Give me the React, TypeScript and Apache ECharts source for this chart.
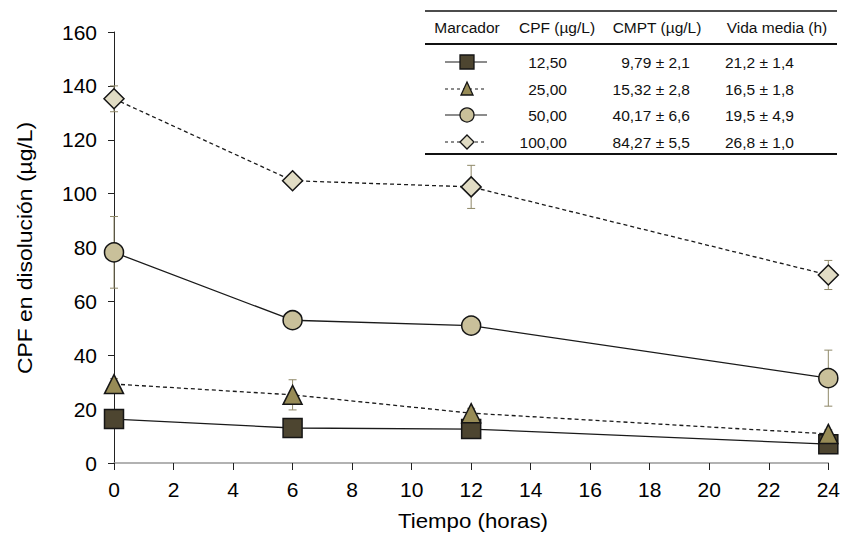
import React, { useEffect, useRef } from "react";
import * as echarts from "echarts";

const hours = [0, 6, 12, 24];
const xTicks = [0, 2, 4, 6, 8, 10, 12, 14, 16, 18, 20, 22, 24];

const s12 = [16.3, 13.0, 12.6, 7.0];
const e12 = [1.2, 1.0, 1.0, 0.8];
const s25 = [29.3, 25.3, 18.5, 10.8];
const e25 = [2.0, 5.6, 1.8, 1.5];
const s50 = [78.2, 53.0, 51.0, 31.5];
const e50 = [13.3, 1.5, 1.5, 10.4];
const s100 = [135.2, 104.8, 102.5, 69.8];
const e100 = [4.8, 1.5, 8.0, 5.4];

const headers = ["Marcador", "CPF (µg/L)", "CMPT (µg/L)", "Vida media (h)"];
const cpf = ["12,50", "25,00", "50,00", "100,00"];
const cmpt = ["9,79 ± 2,1", "15,32 ± 2,8", "40,17 ± 6,6", "84,27 ± 5,5"];
const halfLife = ["21,2 ± 1,4", "16,5 ± 1,8", "19,5 ± 4,9", "26,8 ± 1,0"];

const FONT = "'Liberation Sans', Arial, sans-serif";
const fills = ["#4d4530", "#978b56", "#c9c09a", "#e1dcc4"];
const symbols = ["rect", "triangle", "circle", "diamond"];
const dashed = [false, true, false, true];
const ERR = "#8f8868";

function errSeries(vals: number[], errs: number[]) {
  return {
    type: "custom",
    z: 1,
    silent: true,
    data: hours.map((h, i) => [h, vals[i], errs[i]]),
    renderItem: (params: any, api: any) => {
      const x = api.value(0);
      const y = api.value(1);
      const e = api.value(2);
      const top = api.coord([x, y + e]);
      const bot = api.coord([x, y - e]);
      const c = 4;
      const st = { stroke: ERR, lineWidth: 1 };
      return {
        type: "group",
        children: [
          { type: "line", shape: { x1: top[0], y1: top[1], x2: bot[0], y2: bot[1] }, style: st },
          { type: "line", shape: { x1: top[0] - c, y1: top[1], x2: top[0] + c, y2: top[1] }, style: st },
          { type: "line", shape: { x1: bot[0] - c, y1: bot[1], x2: bot[0] + c, y2: bot[1] }, style: st },
        ],
      };
    },
  };
}

function lineSeries(vals: number[], idx: number) {
  return {
    type: "line",
    z: 3,
    data: hours.map((h, i) => [h, vals[i]]),
    symbol: symbols[idx],
    symbolSize: idx === 1 ? [19, 19] : idx === 3 ? 20 : 19,
    itemStyle: { color: fills[idx], borderColor: "#151515", borderWidth: 1.5 },
    lineStyle: { color: "#1a1a1a", width: 1.3, type: dashed[idx] ? [4, 3] : "solid" },
  };
}

function legendMarker(idx: number, cx: number, cy: number): any[] {
  const stroke = { stroke: "#151515", lineWidth: 1.3 };
  const out: any[] = [
    {
      type: "line",
      shape: { x1: 445, y1: cy, x2: 487, y2: cy },
      style: { stroke: "#1a1a1a", lineWidth: 1.2, lineDash: dashed[idx] ? [3, 3] : null },
    },
  ];
  if (idx === 0) {
    out.push({ type: "rect", shape: { x: cx - 7, y: cy - 7, width: 14, height: 14 }, style: { fill: fills[0], ...stroke } });
  } else if (idx === 1) {
    out.push({ type: "polygon", shape: { points: [[cx, cy - 7], [cx + 6, cy + 6], [cx - 6, cy + 6]] }, style: { fill: fills[1], ...stroke } });
  } else if (idx === 2) {
    out.push({ type: "circle", shape: { cx, cy, r: 7 }, style: { fill: fills[2], ...stroke } });
  } else {
    out.push({ type: "polygon", shape: { points: [[cx, cy - 7], [cx + 7, cy], [cx, cy + 7], [cx - 7, cy]] }, style: { fill: fills[3], ...stroke } });
  }
  return out;
}

export default function App() {
  const ref = useRef<HTMLDivElement>(null);
  useEffect(() => {
    if (!ref.current) return;
    const chart = echarts.init(ref.current, null, { renderer: "svg" });
    const tf = `15.5px ${FONT}`;
    const rowsY = [62, 89, 115, 142];
    const graphics: any[] = [
      { type: "line", shape: { x1: 425, y1: 11, x2: 837, y2: 11 }, style: { stroke: "#111", lineWidth: 1.5 } },
      { type: "line", shape: { x1: 425, y1: 44, x2: 837, y2: 44 }, style: { stroke: "#111", lineWidth: 2 } },
      { type: "line", shape: { x1: 425, y1: 154, x2: 837, y2: 154 }, style: { stroke: "#111", lineWidth: 2 } },
    ];
    const hx = [467, 557, 657, 777];
    headers.forEach((h, i) => {
      graphics.push({ type: "text", x: hx[i], y: 27, style: { text: h, font: tf, fill: "#111", textAlign: "center", textVerticalAlign: "middle" } });
    });
    rowsY.forEach((y, i) => {
      graphics.push(...legendMarker(i, 467, y));
      graphics.push({ type: "text", x: 567, y, style: { text: cpf[i], font: tf, fill: "#111", textAlign: "right", textVerticalAlign: "middle" } });
      graphics.push({ type: "text", x: 690, y, style: { text: cmpt[i], font: tf, fill: "#111", textAlign: "right", textVerticalAlign: "middle" } });
      graphics.push({ type: "text", x: 725, y, style: { text: halfLife[i], font: tf, fill: "#111", textAlign: "left", textVerticalAlign: "middle" } });
    });
    graphics.push({
      type: "text",
      x: 25,
      y: 248,
      rotation: Math.PI / 2,
      scaleX: 1.09,
      style: { text: "CPF en disolución (µg/L)", font: `21px ${FONT}`, fill: "#000", textAlign: "center", textVerticalAlign: "middle" },
    });
    graphics.push({
      type: "text",
      x: 473,
      y: 521,
      scaleX: 1.06,
      style: { text: "Tiempo (horas)", font: `21px ${FONT}`, fill: "#000", textAlign: "center", textVerticalAlign: "middle" },
    });

    chart.setOption({
      animation: false,
      backgroundColor: "#fff",
      grid: { left: 114, right: 12, top: 32, bottom: 70 },
      xAxis: {
        type: "value",
        min: 0,
        max: 24,
        interval: 2,
        axisLine: { show: true, lineStyle: { color: "#999", width: 1.5 } },
        axisTick: { show: true, length: 7, lineStyle: { color: "#222" } },
        axisLabel: {
          fontSize: 21,
          color: "#000",
          fontFamily: FONT,
          margin: 16,
          formatter: (v: number) => (xTicks.includes(v) ? String(v) : ""),
        },
        splitLine: { show: false },
      },
      yAxis: {
        type: "value",
        min: 0,
        max: 160,
        interval: 20,
        axisLine: { show: true, lineStyle: { color: "#222", width: 1 } },
        axisTick: { show: true, length: 6, lineStyle: { color: "#222" } },
        axisLabel: { fontSize: 21, color: "#000", fontFamily: FONT, margin: 17 },
        splitLine: { show: false },
      },
      graphic: graphics,
      series: [
        errSeries(s12, e12),
        errSeries(s25, e25),
        errSeries(s50, e50),
        errSeries(s100, e100),
        lineSeries(s12, 0),
        lineSeries(s25, 1),
        lineSeries(s50, 2),
        lineSeries(s100, 3),
      ],
    });
    return () => chart.dispose();
  }, []);
  return <div ref={ref} style={{ width: 843, height: 533, position: "absolute", left: 0, top: 0 }} />;
}
